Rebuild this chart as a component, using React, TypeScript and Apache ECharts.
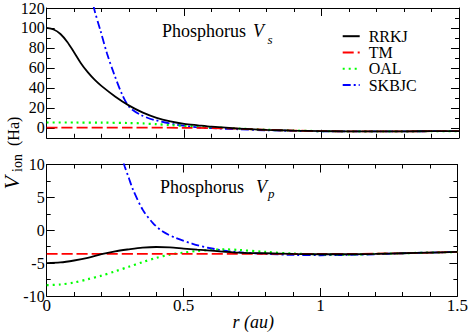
import React, { useEffect, useRef } from "react";
import * as echarts from "echarts";

// ---------- data ----------
const seriesNames = ["RRKJ", "TM", "OAL", "SKBJC"];
const seriesColors = ["#000000", "#ff0000", "#00ff00", "#0000ff"];

// Top panel: V_s
const vsRrkjR = [0, 0.025, 0.05, 0.075, 0.1, 0.125, 0.15, 0.175, 0.2, 0.25, 0.3, 0.35, 0.4, 0.45, 0.5, 0.55, 0.6, 0.7, 0.8, 0.9, 1.0, 1.1, 1.2, 1.3, 1.4, 1.5];
const vsRrkjV = [100, 98.5, 94, 86, 75.5, 64.5, 55.5, 48, 41.8, 31.2, 22.2, 15.2, 10, 6.5, 4, 2.5, 1.1, -0.8, -2.0, -2.8, -3.3, -3.5, -3.6, -3.5, -3.4, -3.3];

const vsTmR = [0, 0.3, 0.5, 0.6, 0.7, 0.8, 0.9, 1.0, 1.1, 1.2, 1.3, 1.4, 1.5];
const vsTmV = [0.2, 0.2, 0, -0.3, -0.9, -2.0, -2.8, -3.3, -3.5, -3.6, -3.5, -3.4, -3.3];

const vsOalR = [0, 0.1, 0.2, 0.3, 0.35, 0.4, 0.45, 0.5, 0.55, 0.6, 0.7, 0.8, 0.9, 1.0, 1.1, 1.2, 1.3, 1.4, 1.5];
const vsOalV = [5.3, 5.3, 5.2, 4.8, 4.4, 3.6, 2.7, 1.9, 1.2, 0.6, -0.8, -2.0, -2.8, -3.3, -3.5, -3.6, -3.5, -3.4, -3.3];

const vsSkbjcR = [0.14, 0.16, 0.172, 0.196, 0.22, 0.245, 0.275, 0.3, 0.342, 0.39, 0.475, 0.55, 0.6, 0.7, 0.8, 0.9, 1.0, 1.1, 1.2, 1.3, 1.4, 1.5];
const vsSkbjcV = [170, 140, 120, 97, 74, 54, 33, 21, 13, 8, 3, 0.5, -0.3, -1.5, -2.5, -3.1, -3.5, -3.6, -3.6, -3.5, -3.4, -3.3];

// Bottom panel: V_p
const vpRrkjR = [0, 0.05, 0.1, 0.15, 0.2, 0.25, 0.3, 0.35, 0.4, 0.45, 0.5, 0.55, 0.6, 0.7, 0.8, 0.9, 1.0, 1.1, 1.2, 1.3, 1.4, 1.5];
const vpRrkjV = [-5.0, -4.9, -4.6, -4.2, -3.65, -3.2, -2.9, -2.65, -2.55, -2.6, -2.78, -2.95, -3.1, -3.4, -3.5, -3.6, -3.65, -3.65, -3.6, -3.5, -3.4, -3.3];

const vpTmR = [0, 0.4, 0.8, 1.0, 1.1, 1.2, 1.3, 1.4, 1.5];
const vpTmV = [-3.6, -3.6, -3.6, -3.6, -3.6, -3.55, -3.5, -3.4, -3.3];

const vpOalR = [0, 0.05, 0.1, 0.15, 0.2, 0.25, 0.3, 0.35, 0.4, 0.45, 0.5, 0.55, 0.6, 0.65, 0.7, 0.8, 0.9, 1.0, 1.1, 1.2, 1.3, 1.4, 1.5];
const vpOalV = [-8.35, -8.25, -7.95, -7.45, -6.9, -6.25, -5.55, -4.85, -4.2, -3.7, -3.4, -3.15, -3.0, -2.9, -3.0, -3.3, -3.55, -3.65, -3.7, -3.6, -3.5, -3.4, -3.3];

const vpSkbjcR = [0.25, 0.27, 0.285, 0.3, 0.315, 0.351, 0.388, 0.424, 0.473, 0.533, 0.594, 0.667, 0.72, 0.8, 0.9, 1.0, 1.1, 1.2, 1.3, 1.4, 1.5];
const vpSkbjcV = [15, 11.8, 9.7, 7.95, 6.2, 3.1, 1.1, -0.2, -1.2, -2.06, -2.7, -3.2, -3.4, -3.6, -3.75, -3.8, -3.75, -3.65, -3.5, -3.4, -3.3];

// Tick values
const topMajorTicks = [0, 20, 40, 60, 80, 100, 120];
const topMinorTicks = [-10, 10, 30, 50, 70, 90, 110];
const xTickLabels = ["0", "0.5", "1", "1.5"];

const FONT = "Liberation Serif, Times New Roman, serif";

const lineTypes: any[] = ["solid", [11, 4], [2, 4], [8, 3, 2, 3]];
const lineWidths = [1.8, 1.8, 2.2, 1.8];

function pairs(r: number[], v: number[]) {
  return r.map((x, i) => [x, v[i]]);
}

export default function App() {
  const ref = useRef<HTMLDivElement>(null);
  useEffect(() => {
    if (!ref.current) return;
    const chart = echarts.init(ref.current, null, { renderer: "svg" });

    const grids = [
      { left: 46.7, right: 12, top: 6.5, height: 131.3 },
      { left: 46.7, right: 12, top: 164.5, height: 131.5 },
    ];

    const axisLine = { show: true, onZero: false, lineStyle: { color: "#000", width: 1 } };

    const makeX = (gridIndex: number, position: string, showLabel: boolean) => ({
      type: "value",
      gridIndex,
      position,
      min: 0,
      max: 1.5,
      interval: 0.5,
      axisLine,
      axisTick: { show: true, inside: true, length: 8, lineStyle: { color: "#000" } },
      minorTick: { show: true, splitNumber: 5, length: 4, lineStyle: { color: "#000" } },
      splitLine: { show: false },
      minorSplitLine: { show: false },
      axisLabel: {
        show: showLabel,
        margin: 1,
        fontFamily: FONT,
        fontSize: 17,
        color: "#000",
        formatter: (v: number) => {
          const idx = Math.round(v / 0.5);
          return xTickLabels[idx] ?? String(v);
        },
      },
    });

    const makeTopY = (position: string, ticks: number[], len: number, showLabel: boolean, showLine: boolean) => ({
      type: "value",
      gridIndex: 0,
      position,
      min: -10,
      max: 120,
      interval: 10,
      axisLine: { ...axisLine, show: showLine },
      axisTick: { show: true, inside: true, length: len, customValues: ticks, lineStyle: { color: "#000" } },
      splitLine: { show: false },
      axisLabel: {
        show: showLabel,
        customValues: topMajorTicks,
        margin: 2,
        fontFamily: FONT,
        fontSize: 16,
        color: "#000",
      },
    });

    const makeBotY = (position: string, showLabel: boolean) => ({
      type: "value",
      gridIndex: 1,
      position,
      min: -10,
      max: 10,
      interval: 5,
      axisLine,
      axisTick: { show: true, inside: true, length: 8, lineStyle: { color: "#000" } },
      minorTick: { show: true, splitNumber: 2, length: 4, lineStyle: { color: "#000" } },
      splitLine: { show: false },
      minorSplitLine: { show: false },
      axisLabel: { show: showLabel, margin: 2, fontFamily: FONT, fontSize: 16, color: "#000" },
    });

    const topData = [
      pairs(vsRrkjR, vsRrkjV),
      pairs(vsTmR, vsTmV),
      pairs(vsOalR, vsOalV),
      pairs(vsSkbjcR, vsSkbjcV),
    ];
    const botData = [
      pairs(vpRrkjR, vpRrkjV),
      pairs(vpTmR, vpTmV),
      pairs(vpOalR, vpOalV),
      pairs(vpSkbjcR, vpSkbjcV),
    ];

    const mkSeries = (data: number[][], i: number, xi: number, yi: number) => ({
      type: "line",
      name: seriesNames[i],
      xAxisIndex: xi,
      yAxisIndex: yi,
      data,
      symbol: "none",
      smooth: 0.3,
      clip: true,
      color: seriesColors[i],
      lineStyle: { color: seriesColors[i], width: lineWidths[i], type: lineTypes[i] },
      z: 10 - i,
    });

    const series: any[] = [];
    [3, 2, 1, 0].forEach((i) => series.push(mkSeries(topData[i], i, 0, 0)));
    [3, 2, 1, 0].forEach((i) => series.push(mkSeries(botData[i], i, 2, 4)));

    const txt = (text: string, x: number, y: number, size: number, italic = false, align = "left", lh?: number) => ({
      type: "text",
      x,
      y,
      silent: true,
      style: {
        text,
        fontFamily: FONT,
        fontSize: size,
        lineHeight: lh ?? size,
        fontStyle: italic ? "italic" : "normal",
        fill: "#000",
        align,
        verticalAlign: "middle",
        textAlign: align,
        textVerticalAlign: "middle",
      },
    });

    const option: any = {
      animation: false,
      backgroundColor: "#fff",
      grid: grids,
      xAxis: [makeX(0, "bottom", false), makeX(0, "top", false), makeX(1, "bottom", true), makeX(1, "top", false)],
      yAxis: [
        makeTopY("left", topMajorTicks, 8, true, true),
        makeTopY("left", topMinorTicks, 4, false, false),
        makeTopY("right", topMajorTicks, 8, false, true),
        makeTopY("right", topMinorTicks, 4, false, false),
        makeBotY("left", true),
        makeBotY("right", false),
      ],
      legend: {
        orient: "vertical",
        left: 341.7,
        top: 28.2,
        padding: 0,
        itemWidth: 17,
        itemHeight: 10,
        itemGap: 0.3,
        selectedMode: false,
        data: seriesNames,
        itemStyle: { opacity: 0 },
        textStyle: { fontFamily: FONT, fontSize: 16, color: "#000", lineHeight: 15, padding: [0, 0, 0, 4] },
      },
      series,
      graphic: [
        txt("Phosphorus", 162, 30.6, 18),
        txt("V", 253, 30.6, 18, true),
        txt("s", 267.5, 39.1, 13, true),
        txt("Phosphorus", 160, 187.2, 18),
        txt("V", 256, 187.2, 18, true),
        txt("p", 268, 193.6, 13, true),
        txt("r (au)", 253.3, 322.4, 18, true, "center"),
        {
          type: "group",
          x: 2.5,
          y: 154,
          rotation: Math.PI / 2,
          children: [
            txt("V", -35.5, 9.2, 22, true, "left", 15),
            txt("ion", -18, 15.3, 14, false, "left", 12),
            txt("(Ha)", 8, 11.1, 16, false, "left", 14),
          ],
        },
      ],
    };
    chart.setOption(option);
    return () => chart.dispose();
  }, []);
  return (
    <div
      ref={ref}
      style={{ position: "fixed", left: 0, top: 0, width: 471, height: 335, background: "#fff" }}
    />
  );
}
